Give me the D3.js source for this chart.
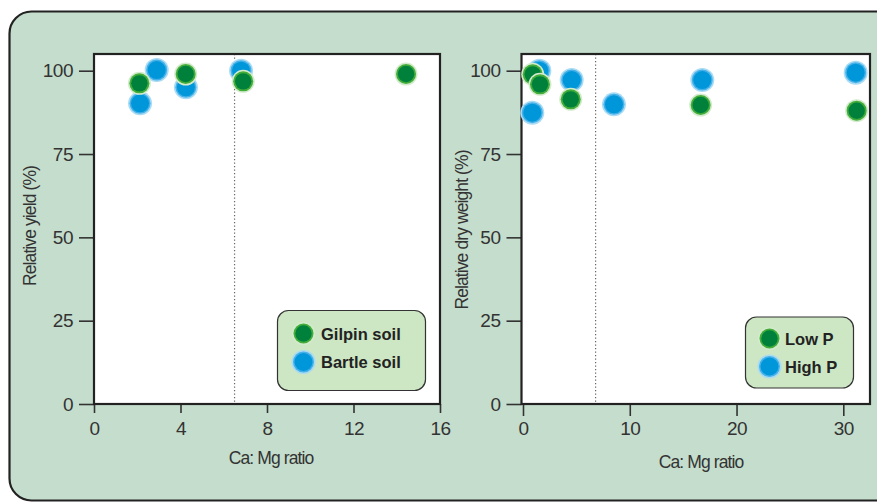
<!DOCTYPE html>
<html><head><meta charset="utf-8">
<script src="https://cdn.jsdelivr.net/npm/d3@7"></script>
<style>
html,body{margin:0;padding:0;background:#fff;}
text{font-family:"Liberation Sans",Arial,sans-serif;}
</style></head>
<body>
<svg id="c" width="877" height="504"></svg>
<script>
// Left panel: Ca:Mg ratio vs relative yield
const leftGilpinX = [2.1, 4.24, 6.9, 14.43];
const leftGilpinY = [96.2, 99, 96.8, 99];
const leftBartleX = [2.13, 2.9, 4.25, 6.8];
const leftBartleY = [90.2, 100.2, 95, 100];
const leftXTicks = [0, 4, 8, 12, 16];
const leftCritical = 6.5;
// Right panel: Ca:Mg ratio vs relative dry weight
const rightLowX = [0.91, 1.59, 4.47, 16.64, 31.25];
const rightLowY = [98.9, 95.9, 91.4, 89.7, 88];
const rightHighX = [0.87, 1.53, 4.56, 8.52, 16.79, 31.16];
const rightHighY = [87.4, 100, 97.2, 89.9, 97.2, 99.4];
const rightXTicks = [0, 10, 20, 30];
const rightCritical = 6.8;
const yTicks = [0, 25, 50, 75, 100];
const leftLegend = ["Gilpin soil", "Bartle soil"];
const rightLegend = ["Low P", "High P"];

const svg = d3.select("#c");
svg.append("rect").attr("x", 9.5).attr("y", 11.5).attr("width", 900).attr("height", 489)
  .attr("rx", 22).attr("fill", "#c5ddcc").attr("stroke", "#222").attr("stroke-width", 2.2);

const y = d3.scaleLinear().domain([0, 100]).range([404, 70.7]);

function symbol(g, cx, cy, type) {
  if (type === "g") {
    g.append("circle").attr("cx", cx).attr("cy", cy).attr("r", 11.5).attr("fill", "#d3ebcc");
    g.append("circle").attr("cx", cx).attr("cy", cy).attr("r", 10).attr("fill", "#43ad3a");
    g.append("circle").attr("cx", cx).attr("cy", cy).attr("r", 8.2).attr("fill", "#00813b");
  } else {
    g.append("circle").attr("cx", cx).attr("cy", cy).attr("r", 12).attr("fill", "#a9dbf4");
    g.append("circle").attr("cx", cx).attr("cy", cy).attr("r", 10.5).attr("fill", "#45b1e8");
    g.append("circle").attr("cx", cx).attr("cy", cy).attr("r", 9).attr("fill", "#0096da");
  }
}

function panel(opt) {
  const g = svg.append("g");
  const x = d3.scaleLinear().domain(opt.xDomain).range([opt.x0, opt.x1]);
  const left = opt.frameLeft, top = 54, bottom = 404, right = opt.x1;
  g.append("rect").attr("x", left).attr("y", top).attr("width", right - left).attr("height", bottom - top)
    .attr("fill", "#fff");
  // critical line
  g.append("line").attr("x1", x(opt.crit)).attr("x2", x(opt.crit)).attr("y1", top).attr("y2", bottom)
    .attr("stroke", "#666").attr("stroke-width", 1.2).attr("stroke-dasharray", "1.2,2.3");
  // axes
  const xa = g.append("g").attr("transform", `translate(0,${bottom})`)
    .call(d3.axisBottom(x).tickValues(opt.xTicks).tickSize(opt.xTickLen).tickSizeOuter(0).tickPadding(opt.xPad));
  const ya = g.append("g").attr("transform", `translate(${left},0)`)
    .call(d3.axisLeft(y).tickValues(yTicks).tickSize(15).tickSizeOuter(0).tickPadding(6));
  [xa, ya].forEach(a => {
    a.attr("font-size", 19).attr("font-family", null);
    a.select(".domain").remove();
    a.selectAll(".tick line").attr("stroke", "#333").attr("stroke-width", 1.6);
    a.selectAll(".tick text").attr("fill", "#333").style("font-size", "19px").attr("letter-spacing", "-0.5");
  });
  // frame
  g.append("rect").attr("x", left).attr("y", top).attr("width", right - left).attr("height", bottom - top)
    .attr("fill", "none").attr("stroke", "#222").attr("stroke-width", 2.2);
  // points
  opt.blueX.forEach((v, i) => symbol(g, x(v), y(opt.blueY[i]), "b"));
  opt.greenX.forEach((v, i) => symbol(g, x(v), y(opt.greenY[i]), "g"));
  // labels
  g.append("text").attr("x", opt.xLabelX).attr("y", opt.xLabelY).attr("text-anchor", "middle")
    .attr("fill", "#333").style("font-size", "17.5px").attr("letter-spacing", "-0.9").text("Ca: Mg ratio");
  g.append("text").attr("transform", `translate(${opt.yLabelX},${opt.yLabelY}) rotate(-90)`)
    .attr("text-anchor", "middle").attr("fill", "#333").style("font-size", "17.5px")
    .attr("letter-spacing", "-0.9").text(opt.yLabel);
  // legend
  const L = opt.legend;
  g.append("rect").attr("x", L.x).attr("y", L.y).attr("width", L.w).attr("height", L.h).attr("rx", 11)
    .attr("fill", "#cde6c3").attr("stroke", "#333").attr("stroke-width", 1.2);
  L.labels.forEach((t, i) => {
    const cy = L.sy + i * L.dy;
    symbol(g, L.sx, cy, i === 0 ? "g" : "b");
    g.append("text").attr("x", L.tx).attr("y", cy + 6).attr("fill", "#222")
      .style("font-size", "16.5px").style("font-weight", "bold").text(t);
  });
}

panel({
  xDomain: [0, 16], x0: 94, x1: 440, frameLeft: 94, xTicks: leftXTicks, xTickLen: 9, xPad: 9, crit: leftCritical,
  blueX: leftBartleX, blueY: leftBartleY, greenX: leftGilpinX, greenY: leftGilpinY,
  xLabelX: 271, xLabelY: 464, yLabelX: 36, yLabelY: 226, yLabel: "Relative yield (%)",
  legend: {x: 277.5, y: 310.5, w: 148, h: 80, sx: 303.5, sy: 333.5, dy: 28.5, tx: 321, labels: leftLegend}
});
panel({
  xDomain: [0, 32.5], x0: 523, x1: 870, frameLeft: 521.5, xTicks: rightXTicks, xTickLen: 12, xPad: 6, crit: rightCritical,
  blueX: rightHighX, blueY: rightHighY, greenX: rightLowX, greenY: rightLowY,
  xLabelX: 701, xLabelY: 468, yLabelX: 468, yLabelY: 230, yLabel: "Relative dry weight (%)",
  legend: {x: 745.5, y: 317, w: 108, h: 71, sx: 769.5, sy: 338.5, dy: 28, tx: 785, labels: rightLegend}
});
</script>
</body></html>
